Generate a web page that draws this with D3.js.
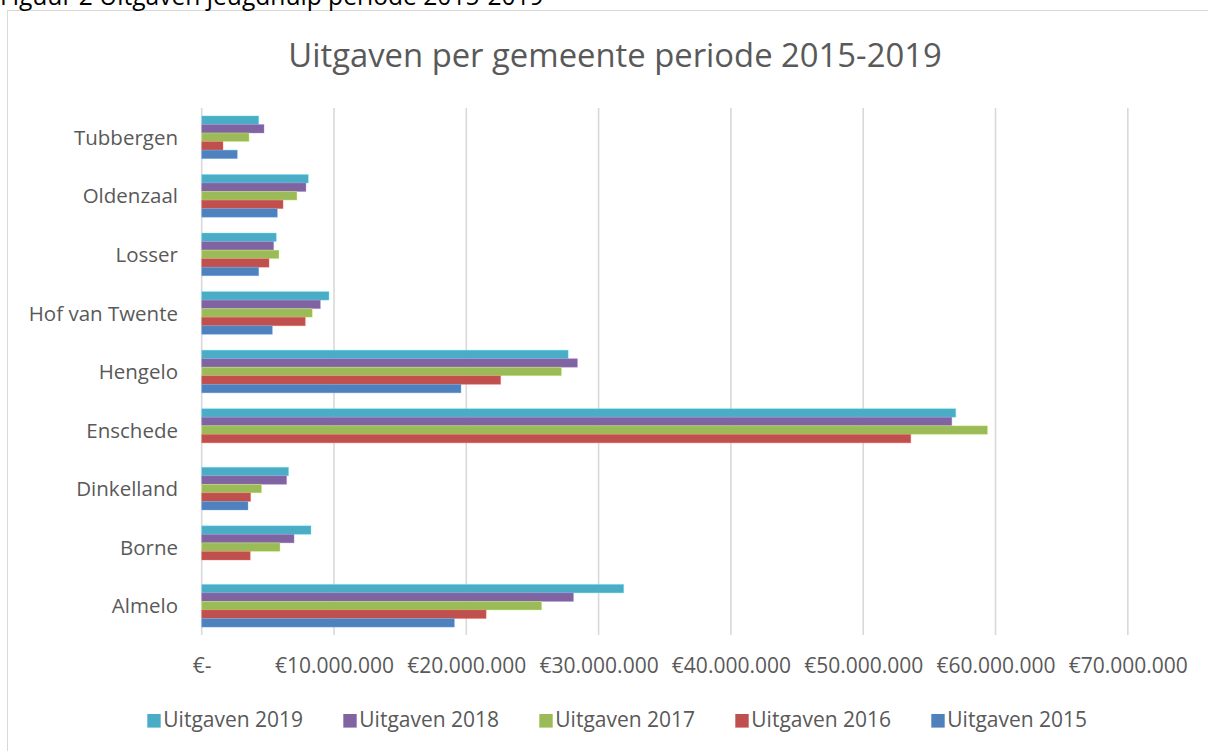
<!DOCTYPE html>
<html>
<head>
<meta charset="utf-8">
<script src="https://cdn.jsdelivr.net/npm/d3@7"></script>
<style>
  html, body { margin: 0; padding: 0; background: #fff; overflow: hidden; }
  svg { display: block; }
  text { font-family: "Open Sans", "Noto Sans", sans-serif; }
</style>
</head>
<body>
<svg id="chart" width="1208" height="751"></svg>
<script>
// ---- Data ----
const categories = ["Almelo", "Borne", "Dinkelland", "Enschede", "Hengelo", "Hof van Twente", "Losser", "Oldenzaal", "Tubbergen"];
const seriesNames = ["Uitgaven 2019", "Uitgaven 2018", "Uitgaven 2017", "Uitgaven 2016", "Uitgaven 2015"];
const uitgaven2019 = [31900000, 8260000, 6570000, 57000000, 27700000, 9620000, 5640000, 8060000, 4310000];
const uitgaven2018 = [28100000, 6980000, 6420000, 56700000, 28400000, 8970000, 5440000, 7880000, 4710000];
const uitgaven2017 = [25700000, 5920000, 4530000, 59400000, 27200000, 8360000, 5840000, 7200000, 3580000];
const uitgaven2016 = [21500000, 3670000, 3700000, 53600000, 22600000, 7830000, 5090000, 6150000, 1610000];
const uitgaven2015 = [19100000, 0, 3500000, 0, 19600000, 5340000, 4310000, 5720000, 2690000];
const xTicks = [0, 10000000, 20000000, 30000000, 40000000, 50000000, 60000000, 70000000];
const colors = ["#4BACC6", "#8064A2", "#9BBB59", "#C0504D", "#4F81BD"];
const title = "Uitgaven per gemeente periode 2015-2019";
const caption = "Figuur 2 Uitgaven jeugdhulp periode 2015-2019";

const seriesValues = [uitgaven2019, uitgaven2018, uitgaven2017, uitgaven2016, uitgaven2015];

// ---- Layout ----
const svg = d3.select("#chart");
const plot = { left: 201.7, right: 1127.8, top: 108, bottom: 635 };
const textColor = "#595959";

// chart frame
svg.append("rect")
  .attr("x", 7.5).attr("y", 10.5)
  .attr("width", 1300).attr("height", 800)
  .attr("fill", "#fff").attr("stroke", "#d9d9d9").attr("stroke-width", 1);

// caption above the frame (partly cut off, as in the reference)
svg.append("text")
  .attr("x", 0).attr("y", 5)
  .attr("font-size", 24.6)
  .attr("fill", "#000")
  .text(caption);

// title
svg.append("text")
  .attr("x", 615).attr("y", 67)
  .attr("text-anchor", "middle")
  .attr("font-size", 32.8)
  .attr("fill", textColor)
  .text(title);

const x = d3.scaleLinear().domain([0, 70000000]).range([plot.left, plot.right]);
const y = d3.scaleBand()
  .domain(categories.slice().reverse())
  .range([plot.top, plot.bottom])
  .paddingInner(0.27)
  .paddingOuter(0.135);
const ySub = d3.scaleBand().domain(seriesNames).range([0, y.bandwidth()]);

// gridlines
svg.append("g")
  .selectAll("line")
  .data(xTicks)
  .join("line")
  .attr("x1", d => x(d)).attr("x2", d => x(d))
  .attr("y1", plot.top).attr("y2", plot.bottom)
  .attr("stroke", "#d9d9d9")
  .attr("stroke-width", 1.6);

// bars
const rows = [];
categories.forEach((c, i) => {
  seriesNames.forEach((s, j) => {
    rows.push({ cat: c, series: s, value: seriesValues[j][i], color: colors[j] });
  });
});

svg.append("g")
  .selectAll("rect")
  .data(rows.filter(d => d.value > 0))
  .join("rect")
  .attr("x", x(0))
  .attr("y", d => y(d.cat) + ySub(d.series))
  .attr("width", d => x(d.value) - x(0))
  .attr("height", ySub.bandwidth())
  .attr("fill", d => d.color)
  .attr("stroke", d => d3.color(d.color).brighter(0.9))
  .attr("stroke-opacity", 0.45)
  .attr("stroke-width", 0.8);

// x axis tick labels
const fmt = d => d === 0 ? "€-" : "€" + d3.format(",")(d).replace(/,/g, ".");
const xAxis = d3.axisBottom(x).tickValues(xTicks).tickFormat(fmt).tickSize(0).tickPadding(0);
const gx = svg.append("g").attr("transform", `translate(0, 658)`).call(xAxis);
gx.select(".domain").remove();
gx.selectAll("text")
  .attr("font-family", "'Open Sans', sans-serif")
  .attr("font-size", 21)
  .attr("fill", textColor)
  .attr("dy", "0.72em");

// y axis labels
const yAxis = d3.axisLeft(y).tickSize(0).tickPadding(0);
const gy = svg.append("g").attr("transform", `translate(178, 1)`).call(yAxis);
gy.select(".domain").remove();
gy.selectAll("text")
  .attr("font-family", "'Open Sans', sans-serif")
  .attr("font-size", 20.5)
  .attr("fill", textColor);

// legend
const legend = svg.append("g");
const legendX = d3.scalePoint().domain(seriesNames).range([147.3, 931.3]);
const li = legend.selectAll("g")
  .data(seriesNames)
  .join("g")
  .attr("transform", d => `translate(${legendX(d)}, 714)`);
li.append("rect")
  .attr("width", 13.4).attr("height", 13.6)
  .attr("fill", (d, i) => colors[i]);
li.append("text")
  .attr("x", 16).attr("y", 13.3)
  .attr("font-size", 21)
  .attr("fill", textColor)
  .text(d => d);
</script>
</body>
</html>
